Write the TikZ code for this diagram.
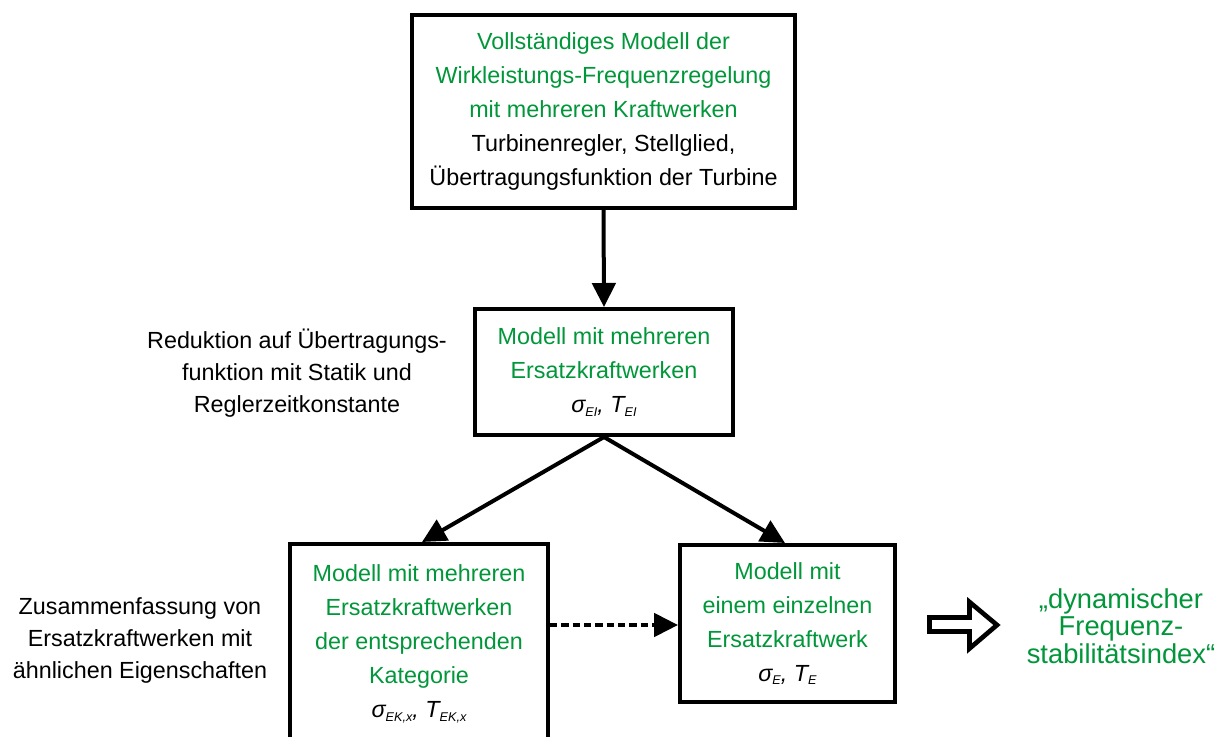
\documentclass[tikz,border=0pt]{standalone}
\usepackage{fontspec}
\setmainfont{Liberation Sans}
\usetikzlibrary{arrows.meta}
\definecolor{vgreen}{RGB}{0,150,57}
% lowered small index for the parameter symbols
\newcommand\sbs[1]{\raisebox{-2.5pt}{\fontsize{9.5pt}{9.5pt}\selectfont #1}}
\newcommand\gr[1]{\textcolor{vgreen}{#1}}
\begin{document}
\begin{tikzpicture}[x=0.75pt,y=-0.75pt,
  box/.style={draw,line width=3pt,align=center,inner sep=0pt,
    font=\fontsize{17.5pt}{25.5pt}\selectfont},
  note/.style={align=center,inner sep=0pt,
    font=\fontsize{17.5pt}{24pt}\selectfont},
  result/.style={align=center,inner sep=0pt,text=vgreen,
    font=\fontsize{20.5pt}{20.5pt}\selectfont},
  arr/.style={line width=3pt,-{Triangle[length=18pt,width=17.5pt]}},
  hollow/.style={draw,line width=3.5pt,miter limit=10},
  ]
\path[use as bounding box, clip] (0,0) rectangle (1225,736);

% model boxes
\node[box,minimum width=287.25pt,minimum height=144.75pt] (full) at (603.5,111.5)
  {\gr{Vollständiges Modell der}\\
   \gr{Wirkleistungs-Frequenzregelung}\\
   \gr{mit mehreren Kraftwerken}\\
   Turbinenregler, Stellglied,\\
   Übertragungsfunktion der Turbine};
\node[box,minimum width=193.5pt,minimum height=94.5pt] (multi) at (604,372)
  {\gr{Modell mit mehreren}\\
   \gr{Ersatzkraftwerken}\\
   \textit{σ\sbs{EI}, T\sbs{EI}}};
% this box runs past the lower edge of the page
\node[box,minimum width=193.5pt,minimum height=150pt] (cat) at (419,644)
  {\gr{Modell mit mehreren}\\
   \gr{Ersatzkraftwerken}\\
   \gr{der entsprechenden}\\
   \gr{Kategorie}\\
   \textit{σ\sbs{EK,x}, T\sbs{EK,x}}};
\node[box,minimum width=161.25pt,minimum height=117.75pt] (single) at (787.5,623.5)
  {\gr{Modell mit}\\
   \gr{einem einzelnen}\\
   \gr{Ersatzkraftwerk}\\
   \textit{σ\sbs{E}, T\sbs{E}}};

% side notes
\node[note] (red) at (297,373)
  {Reduktion auf Übertragungs-\\funktion mit Statik und\\Reglerzeitkonstante};
\node[note] (sum) at (140,640)
  {Zusammenfassung von\\Ersatzkraftwerken mit\\ähnlichen Eigenschaften};
\node[result] (idx) at (1121,626)
  {„dynamischer\\Frequenz-\\stabilitätsindex“};

% connectors
\coordinate (tl) at (422,0);
\coordinate (tr) at (785,0);
\coordinate (dy) at (0,625);
\draw[arr] (full.south) -- (multi.north);
\draw[arr] (multi.south) -- (cat.north -| tl);
\draw[arr] (multi.south) -- (single.north -| tr);
\draw[arr,dash pattern=on 5.5pt off 3pt] (cat.east |- dy) -- (single.west |- dy);

% block arrow towards the index
\draw[hollow] (929.5,617.5) -- (969.5,617.5) -- (969.5,602) -- (997,625)
  -- (969.5,648.5) -- (969.5,631.5) -- (929.5,631.5) -- cycle;
\end{tikzpicture}
\end{document}
